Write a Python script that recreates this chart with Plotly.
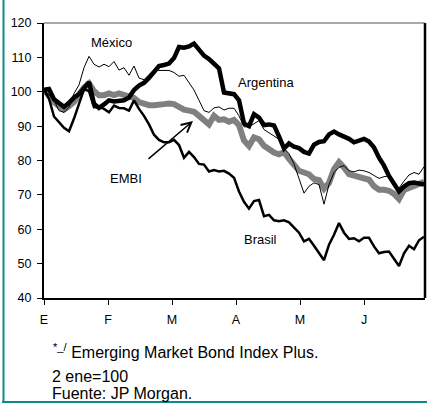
import plotly.graph_objects as go

# Month tick labels (Jan..Jun, Spanish initials)
month_labels = ["E", "F", "M", "A", "M", "J"]
month_pos = [0, 1, 2, 3, 4, 5]

# Index values (2 ene = 100), sampled every 5/64 of a month
argentina = [100.6, 100.8, 97.8, 96.5, 95.6, 96.8, 98.3, 99.3, 101.3, 102.8,
             96.5, 95.3, 96.3, 97.5, 97.2, 97.4, 97.5, 98.3, 100.5, 101.8,
             102.6, 104.0, 106.0, 107.5, 107.8, 108.2, 109.8, 113.0, 112.8, 113.2,
             114.0, 112.3, 110.5, 109.5, 108.3, 106.8, 99.8, 99.5, 99.3, 97.5,
             90.8, 90.0, 93.5, 92.5, 90.3, 90.5, 90.2, 87.0, 83.5, 85.0,
             84.0, 83.6, 82.5, 82.0, 84.6, 85.4, 85.6, 87.6, 88.4, 87.6,
             87.0, 86.3, 85.3, 85.8, 86.3, 85.5, 83.8, 80.8, 78.5, 75.5,
             73.4, 71.0, 72.4, 73.4, 73.6, 73.3, 73.0]

mexico = [100.6, 99.0, 97.5, 94.5, 94.0, 95.5, 99.5, 102.0, 107.0, 110.3,
          108.0, 107.2, 108.0, 107.3, 108.8, 106.3, 107.0, 104.8, 107.5, 104.0,
          103.5, 105.0, 106.3, 106.2, 106.2, 106.2, 105.6, 104.5, 104.8, 102.6,
          100.5, 97.5, 94.5, 94.0, 95.3, 95.6, 94.7, 95.2, 95.2, 93.0,
          89.8, 89.8, 90.6, 91.6, 89.0, 88.0, 87.2, 86.2, 83.5, 82.0,
          79.0, 74.5, 70.5, 72.5, 73.5, 73.0, 67.3, 73.0, 76.5, 78.0,
          78.5, 77.0, 76.7, 77.2, 77.0, 76.5, 75.6, 74.8, 75.3, 75.5,
          73.2, 72.0, 74.0, 75.8, 76.5, 76.0, 78.2]

embi = [100.6, 98.5, 97.0, 95.8, 94.8, 95.8, 97.0, 99.2, 101.2, 102.4,
        100.2, 99.0, 99.0, 99.5, 99.0, 99.5, 99.2, 98.8, 98.2, 97.0,
        96.5, 96.1, 96.1, 96.1, 96.4, 96.6, 96.4, 95.6, 94.8, 94.5,
        94.2, 93.0, 92.0, 90.5, 93.0, 91.8, 92.0, 91.3, 91.8, 90.3,
        85.8, 84.2, 86.7, 86.2, 84.3, 83.2, 82.3, 81.8, 82.4, 80.5,
        79.0, 77.0, 76.5, 76.0, 74.6, 74.3, 71.8, 73.5, 77.5, 79.5,
        78.0, 76.0, 75.6, 75.2, 74.8, 74.4, 72.5, 71.5, 71.5, 71.2,
        70.3, 68.8, 71.4, 71.9, 72.5, 73.1, 73.8]

brasil = [100.6, 98.0, 92.8, 91.0, 89.5, 88.5, 92.2, 96.5, 100.7, 100.2,
          95.5, 95.6, 95.0, 94.0, 96.0, 95.3, 95.2, 94.5, 97.5, 95.0,
          93.0, 90.5, 87.5, 86.0, 85.3, 85.3, 86.0, 84.5, 80.8, 82.5,
          81.0, 79.0, 78.8, 76.8, 77.2, 76.8, 77.0, 76.2, 75.0, 71.0,
          68.0, 66.0, 68.2, 68.5, 63.8, 64.2, 62.6, 62.3, 62.6, 62.0,
          60.5, 59.0, 56.5, 57.2, 55.2, 53.0, 51.0, 55.5, 58.4, 61.8,
          59.0, 57.2, 57.4, 56.5, 57.5, 57.5, 55.0, 53.0, 53.4, 53.5,
          51.5, 49.3, 53.0, 55.2, 54.2, 56.8, 57.8]

sample_step = 5 / 64
x = [i * sample_step for i in range(len(argentina))]

FONT = "Liberation Sans, Arial, sans-serif"

fig = go.Figure()
fig.add_trace(go.Scatter(x=x, y=embi, mode="lines", name="EMBI",
                         line=dict(color="#808080", width=6)))
fig.add_trace(go.Scatter(x=x, y=brasil, mode="lines", name="Brasil",
                         line=dict(color="#000000", width=2.5)))
fig.add_trace(go.Scatter(x=x, y=mexico, mode="lines", name="México",
                         line=dict(color="#000000", width=1)))
fig.add_trace(go.Scatter(x=x, y=argentina, mode="lines", name="Argentina",
                         line=dict(color="#000000", width=4.5)))

annotations = [
    dict(x=1.047, y=114.2, text="México", showarrow=False, xref="x", yref="y",
         font=dict(size=13, family=FONT, color="black")),
    dict(x=3.469, y=102.8, text="Argentina", showarrow=False, xref="x", yref="y",
         font=dict(size=13, family=FONT, color="black")),
    dict(x=1.281, y=74.9, text="EMBI", showarrow=False, xref="x", yref="y",
         font=dict(size=13, family=FONT, color="black")),
    dict(x=3.375, y=56.9, text="Brasil", showarrow=False, xref="x", yref="y",
         font=dict(size=13, family=FONT, color="black")),
    dict(x=2.328, y=91.5, ax=1.609, ay=80.1, xref="x", yref="y",
         axref="x", ayref="y", text="", showarrow=True,
         arrowhead=5, arrowsize=1.3, arrowwidth=1.5, arrowcolor="black"),
    dict(x=(51 - 44) / 381, y=(298 - 351) / 275, xref="paper", yref="paper",
         xanchor="left", yanchor="middle", showarrow=False,
         text="<sup>*_/</sup> Emerging Market Bond Index Plus.",
         font=dict(size=16, family=FONT, color="black")),
    dict(x=(50 - 44) / 381, y=(298 - 376) / 275, xref="paper", yref="paper",
         xanchor="left", yanchor="middle", showarrow=False,
         text="2 ene=100",
         font=dict(size=16, family=FONT, color="black")),
    dict(x=(50 - 44) / 381, y=(298 - 393) / 275, xref="paper", yref="paper",
         xanchor="left", yanchor="middle", showarrow=False,
         text="Fuente: JP Morgan.",
         font=dict(size=16, family=FONT, color="black")),
]

shapes = [
    # top and right frame of the plot area
    dict(type="line", xref="paper", yref="paper", x0=0, x1=1, y0=1, y1=1,
         line=dict(color="#555555", width=1.2)),
    dict(type="line", xref="paper", yref="paper", x0=1, x1=1, y0=0, y1=1,
         line=dict(color="black", width=2.5)),
    # teal page border (left and bottom)
    dict(type="line", xref="paper", yref="paper",
         x0=(3.5 - 44) / 381, x1=(3.5 - 44) / 381, y0=(298 + 10) / 275, y1=(298 - 403) / 275,
         line=dict(color="#0e8a8a", width=2)),
    dict(type="line", xref="paper", yref="paper",
         x0=(2 - 44) / 381, x1=(427 - 44) / 381, y0=(298 - 402) / 275, y1=(298 - 402) / 275,
         line=dict(color="#0e8a8a", width=2)),
]

fig.update_layout(
    width=427, height=403,
    margin=dict(l=44, r=2, t=23, b=105),
    paper_bgcolor="white", plot_bgcolor="white",
    showlegend=False, hovermode=False,
    font=dict(family=FONT, color="black", size=12),
    annotations=annotations, shapes=shapes,
)
fig.update_xaxes(range=[0, 5.953], tickvals=month_pos, ticktext=month_labels,
                 showgrid=False, zeroline=False, showline=True, linecolor="black",
                 linewidth=2, ticks="outside", ticklen=5, tickwidth=1,
                 tickcolor="black", tickfont=dict(size=12.5, family=FONT),
                 ticklabelstandoff=4)
fig.update_yaxes(range=[40, 120], tickvals=list(range(40, 121, 10)),
                 showgrid=False, zeroline=False, showline=True, linecolor="black",
                 linewidth=2, ticks="outside", ticklen=5, tickwidth=1,
                 tickcolor="black", tickfont=dict(size=12.5, family=FONT),
                 ticklabelstandoff=3)

fig.write_html("out.html", config={"displayModeBar": False},
               post_script="document.body.style.margin='0';"
                           "document.body.style.overflow='hidden';")
